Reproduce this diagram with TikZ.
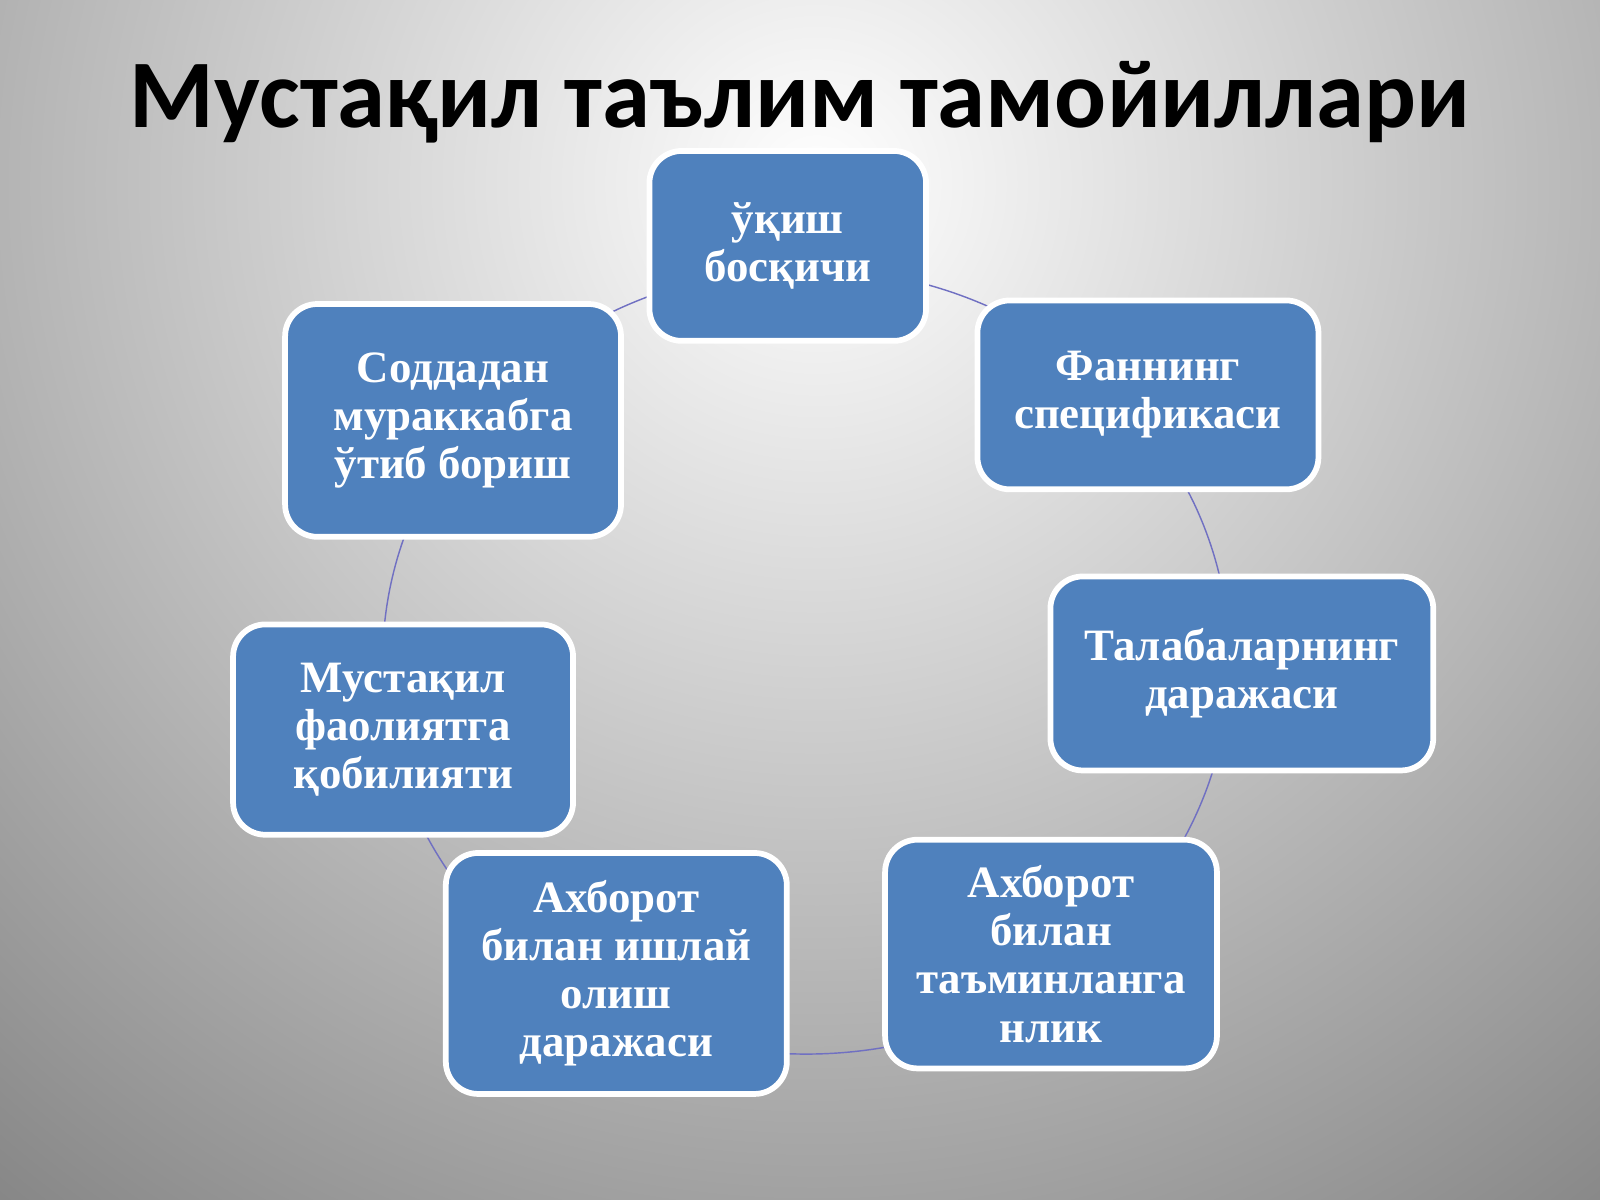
\documentclass[tikz,border=0pt]{standalone}
\usepackage{fontspec}
\setmainfont{Liberation Serif}
\newfontfamily\titlefont{Carlito}
\usetikzlibrary{positioning}
\definecolor{BoxClr}{RGB}{79,129,189}
\definecolor{BackClr}{RGB}{128,128,128}
\tikzset{
  stage/.style={draw=white,line width=1.6pt,fill=BoxClr,rounded corners=9pt,
    text=white,font=\fontsize{12.5}{13.4}\selectfont\bfseries,align=center,inner sep=0pt},
  ring/.style={draw=gray!60!blue!80,line width=0.4pt}
}
\begin{document}
\begin{tikzpicture}[x=0.01cm,y=-0.01cm]
\useasboundingbox (0,0) rectangle (1568,1176);
\begin{scope}
\clip (0,0) rectangle (1568,1176);
\shade[inner color=white,outer color=BackClr] (800,180) circle (1350);
\end{scope}
\node (title) at (784,100) {\titlefont\fontsize{27}{30}\selectfont\bfseries Мустақил таълим тамойиллари};
% ring behind the stages
\draw[ring] (790,648) ellipse (415 and 385);
\node[stage,minimum width=2.71cm,minimum height=1.86cm] (s1) at (772,241) {ўқиш\\ босқичи};
\node[stage,minimum width=3.34cm,minimum height=1.85cm] (s2) at (1125,387) {Фаннинг\\ спецификаси};
\node[stage,minimum width=3.75cm,minimum height=1.90cm] (s3) at (1217,660) {Талабаларнинг\\ даражаси};
\node[stage,minimum width=3.25cm,minimum height=2.24cm] (s4) at (1030,935) {Ахборот\\ билан\\ таъминланга\\ нлик};
\node[stage,minimum width=3.34cm,minimum height=2.36cm] (s5) at (604,954) {Ахборот\\ билан ишлай\\ олиш\\ даражаси};
\node[stage,minimum width=3.33cm,minimum height=2.06cm] (s6) at (395,715) {Мустақил\\ фаолиятга\\ қобилияти};
\node[stage,minimum width=3.29cm,minimum height=2.28cm] (s7) at (444,412) {Соддадан\\ мураккабга\\ ўтиб бориш};
\end{tikzpicture}
\end{document}
